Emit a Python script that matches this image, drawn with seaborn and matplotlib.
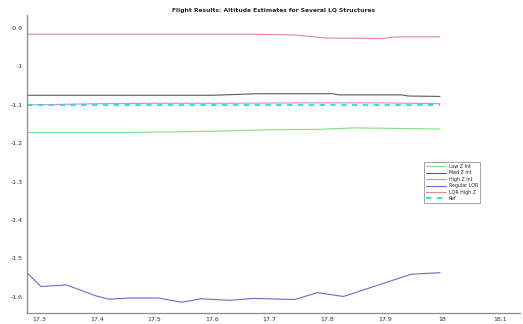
import numpy as np
import pandas as pd
import matplotlib
matplotlib.use("Agg")
import matplotlib.pyplot as plt
from matplotlib.ticker import FuncFormatter
import seaborn as sns

# Altitude estimates (m) vs flight time (s) for each LQ structure
t_low = [17.278, 17.45, 17.55, 17.62, 17.70, 17.78, 17.85, 17.90, 17.996]
z_low = [-1.172, -1.172, -1.170, -1.168, -1.165, -1.164, -1.160, -1.161, -1.163]

t_med = [17.278, 17.60, 17.68, 17.81, 17.82, 17.93, 17.94, 17.996]
z_med = [-1.075, -1.075, -1.071, -1.071, -1.074, -1.074, -1.077, -1.078]

t_high = [17.278, 17.33, 17.40, 17.50, 17.60, 17.75, 17.90, 17.996]
z_high = [-1.100, -1.099, -1.097, -1.096, -1.096, -1.095, -1.095, -1.097]

t_reg = [17.278, 17.302, 17.347, 17.397, 17.42, 17.455, 17.507, 17.547, 17.58,
         17.63, 17.672, 17.743, 17.783, 17.828, 17.946, 17.996]
z_reg = [-1.537, -1.573, -1.569, -1.597, -1.606, -1.603, -1.603, -1.614, -1.605,
         -1.609, -1.604, -1.607, -1.589, -1.599, -1.541, -1.537]

t_lqrz = [17.278, 17.663, 17.744, 17.797, 17.897, 17.918, 17.996]
z_lqrz = [-0.916, -0.916, -0.918, -0.926, -0.927, -0.923, -0.923]

t_ref = [17.278, 17.996]
z_ref = [-1.100, -1.100]

series = [
    ("Low Z Int", t_low, z_low, "#7fe07f", "-", 0.8),
    ("Med Z Int", t_med, z_med, "#5a5a5a", "-", 0.8),
    ("High Z Int", t_high, z_high, "#e27fe2", "-", 0.8),
    ("Regular LQR", t_reg, z_reg, "#7068d0", "-", 0.8),
    ("LQR High Z", t_lqrz, z_lqrz, "#e08a8a", "-", 0.8),
    ("Ref", t_ref, z_ref, "#22dede", (0, (3, 3)), 1.3),
]

sns.set_style("white")
plt.rcParams["font.family"] = ["DejaVu Sans"]

fig = plt.figure(figsize=(5.23, 3.24), dpi=100)
ax = fig.add_axes([27 / 523, 11 / 324, 493 / 523, 298 / 324])

for name, t, z, color, ls, lw in series:
    df = pd.DataFrame({"t": t, "z": z})
    sns.lineplot(data=df, x="t", y="z", ax=ax, color=color, linestyle=ls,
                 linewidth=lw, label=name)

ax.set_xlim(17.278, 18.135)
ax.set_ylim(-1.642, -0.866)
ax.set_xticks([17.3, 17.4, 17.5, 17.6, 17.7, 17.8, 17.9, 18.0, 18.1])
ax.set_yticks([-1.6, -1.5, -1.4, -1.3, -1.2, -1.1, -1.0, -0.9])
fmt = FuncFormatter(lambda v, p: f"{v:g}")
ax.xaxis.set_major_formatter(fmt)
ax.yaxis.set_major_formatter(fmt)
ax.set_xlabel("")
ax.set_ylabel("")

for side in ("top", "right"):
    ax.spines[side].set_visible(False)
for side in ("left", "bottom"):
    ax.spines[side].set_color("#8c8c8c")
    ax.spines[side].set_linewidth(0.9)
ax.tick_params(direction="in", length=3, width=0.6, color="#8c8c8c",
               labelsize=4.5, labelcolor="#333333", pad=3)

ax.set_title("Flight Results: Altitude Estimates for Several LQ Structures",
             fontsize=4.3, fontweight="bold", pad=2.5)

leg = ax.legend(loc="upper left", bbox_to_anchor=(0.801, 0.515), fontsize=3.4,
                frameon=True, fancybox=False, handlelength=4.2,
                borderpad=0.45, labelspacing=0.3, handletextpad=0.5)
leg.get_frame().set_edgecolor("#8c8c8c")
leg.get_frame().set_linewidth(0.7)

fig.savefig("out.png", dpi=100)
